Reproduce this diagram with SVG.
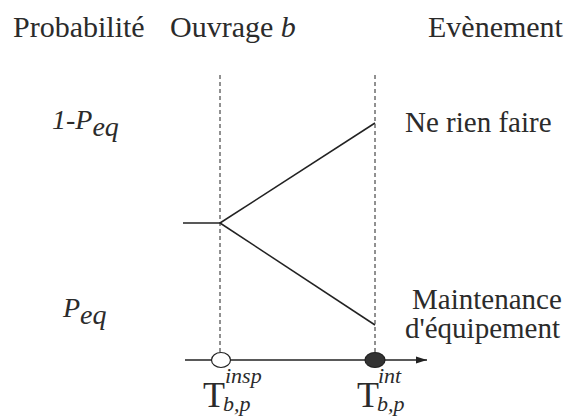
<svg xmlns="http://www.w3.org/2000/svg" width="566" height="419" viewBox="0 0 566 419" font-family="'Liberation Serif', Tinos, 'Times New Roman', 'DejaVu Serif', serif">
<style>
text{font-family:'Liberation Serif', Tinos, 'Times New Roman', 'DejaVu Serif', serif;fill:#2b2b2b}
.h{font-size:30px}
.e{font-size:29px}
.it{font-style:italic}
.ln{stroke:#222;stroke-width:1.5;fill:none}
.dash{stroke:#222;stroke-width:1;stroke-dasharray:4 3;fill:none}
</style>
<defs>
<marker id="arr" markerWidth="12" markerHeight="8" refX="11" refY="4" orient="auto" markerUnits="userSpaceOnUse">
<path d="M0,0.5 L11,4 L0,7.5 Z" fill="#222"/>
</marker>
</defs>
<g id="headers">
<text class="h" x="13" y="37">Probabilité</text>
<text class="h" x="170" y="37">Ouvrage <tspan class="it">b</tspan></text>
<text class="h" x="428" y="37">Evènement</text>
</g>
<g id="prob-labels">
<text class="it" font-size="28" x="52" y="129">1-P<tspan dy="7">eq</tspan></text>
<text class="it" font-size="28" x="63" y="317">P<tspan dy="7">eq</tspan></text>
</g>
<g id="connectors">
<line class="dash" x1="220" y1="75" x2="220" y2="353"/>
<line class="dash" x1="375" y1="75" x2="375" y2="353"/>
<line class="ln" x1="183" y1="223" x2="220" y2="223"/>
<line class="ln" x1="220" y1="223" x2="375" y2="123"/>
<line class="ln" x1="220" y1="223" x2="375" y2="325"/>
<line class="ln" x1="185" y1="360" x2="427" y2="360" marker-end="url(#arr)"/>
</g>
<g id="node-insp">
<ellipse cx="221" cy="360" rx="9.5" ry="7.5" fill="#fff" stroke="#222" stroke-width="1.2"/>
<text x="203" y="407" font-size="36">T</text>
<text class="it" x="225" y="383" font-size="22">insp</text>
<text class="it" x="223" y="411" font-size="22">b,p</text>
</g>
<g id="node-int">
<ellipse cx="375" cy="360" rx="10" ry="7.5" fill="#333" stroke="#222" stroke-width="1.2"/>
<text x="357" y="407" font-size="36">T</text>
<text class="it" x="378" y="383" font-size="22">int</text>
<text class="it" x="377" y="411" font-size="22">b,p</text>
</g>
<g id="events">
<text class="e" x="405" y="132">Ne rien faire</text>
<text class="e" x="412" y="309">Maintenance</text>
<text class="e" x="405" y="338">d'équipement</text>
</g>
</svg>
